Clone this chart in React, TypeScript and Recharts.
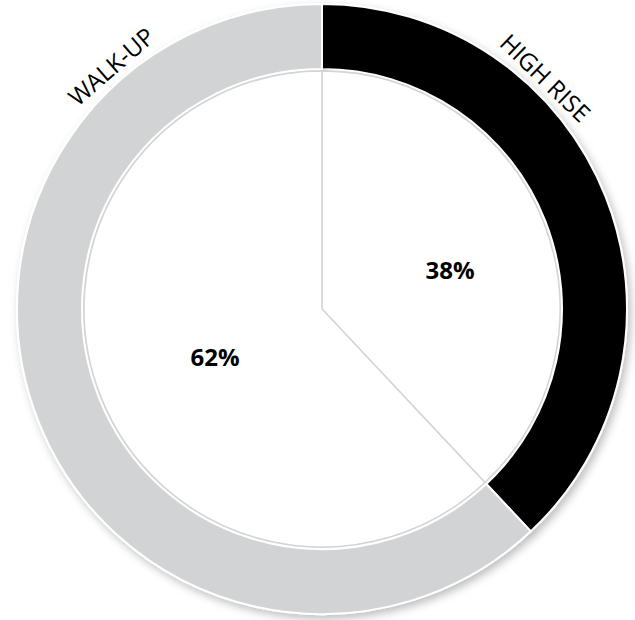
import React from "react";
import { PieChart, Pie, Cell } from "recharts";

const categories = ["HIGH RISE", "WALK-UP"];
const shares = [38, 62];
const percentLabels = ["38%", "62%"];
const colors = ["#000000", "#d1d3d4"];
// label placement (degrees, counter-clockwise from 3 o'clock)
const nameAngles = [46, 131];
const pctAngles = [17, 204];
const pctRadii = [134, 117];

const data = categories.map((name, i) => ({ name, value: shares[i] }));

const RAD = Math.PI / 180;

const renderName = (props: any) => {
  const { cx, cy, outerRadius, index } = props;
  const a = nameAngles[index];
  const r = outerRadius + 17;
  const x = cx + r * Math.cos(a * RAD);
  const y = cy - r * Math.sin(a * RAD);
  const rot = 90 - a;
  return (
    <text
      x={x}
      y={y}
      textAnchor="middle"
      dominantBaseline="central"
      transform={`rotate(${rot}, ${x}, ${y})`}
      fontFamily="'Open Sans', sans-serif"
      fontSize={24}
      fill="#000"
    >
      {categories[index]}
    </text>
  );
};

const renderPct = (props: any) => {
  const { cx, cy, index } = props;
  const a = pctAngles[index];
  const r = pctRadii[index];
  const x = cx + r * Math.cos(a * RAD);
  const y = cy - r * Math.sin(a * RAD);
  return (
    <text
      x={x}
      y={y}
      textAnchor="middle"
      dominantBaseline="central"
      fontFamily="'Open Sans', sans-serif"
      fontWeight="bold"
      fontSize={24}
      fill="#000"
    >
      {percentLabels[index]}
    </text>
  );
};

export default function App() {
  return (
    <div style={{ position: "absolute", left: 0, top: 0, background: "#fff" }}>
      <PieChart width={635} height={620} margin={{ top: 0, right: 0, bottom: 0, left: 0 }}>
        <defs>
          <filter id="ringShadow" x="-10%" y="-10%" width="120%" height="120%">
            <feDropShadow dx="3" dy="4" stdDeviation="4" floodColor="#000" floodOpacity="0.25" />
          </filter>
        </defs>
        <Pie
          data={data}
          dataKey="value"
          cx={322}
          cy={309}
          innerRadius={240}
          outerRadius={305}
          startAngle={90}
          endAngle={-270}
          stroke="#ffffff"
          strokeWidth={2}
          label={renderName}
          labelLine={false}
          isAnimationActive={false}
          style={{ filter: "url(#ringShadow)" }}
        >
          {data.map((d, i) => (
            <Cell key={d.name} fill={colors[i]} />
          ))}
        </Pie>
        <Pie
          data={data}
          dataKey="value"
          cx={322}
          cy={309}
          innerRadius={0}
          outerRadius={238}
          startAngle={90}
          endAngle={-270}
          fill="#ffffff"
          stroke="#d4d4d4"
          strokeWidth={1.5}
          label={renderPct}
          labelLine={false}
          isAnimationActive={false}
        >
          {data.map((d) => (
            <Cell key={d.name} fill="#ffffff" />
          ))}
        </Pie>
      </PieChart>
    </div>
  );
}
